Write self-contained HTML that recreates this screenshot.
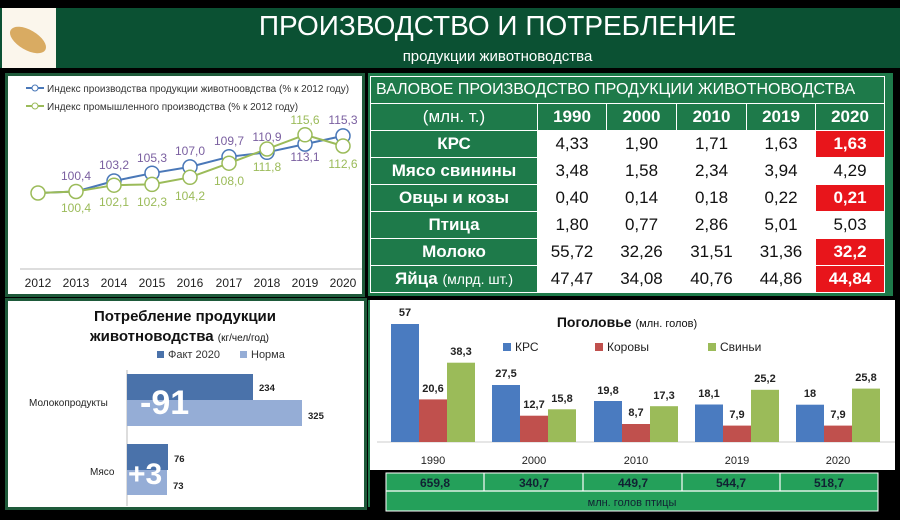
<!DOCTYPE html>
<html><head><meta charset="utf-8"><style>
body{margin:0;background:#000;width:900px;height:520px;overflow:hidden;position:relative;font-family:"Liberation Sans","DejaVu Sans",sans-serif}
.a{position:absolute}
table{border-collapse:collapse;position:absolute;left:370px;top:76px;width:514px;font-size:17px;table-layout:fixed}
td{border:1.5px solid #fff;text-align:center;height:26px;padding:0;color:#111;white-space:nowrap;overflow:hidden}
td.g{background:#1e7a4a;color:#fff;font-weight:bold}
td.r{background:#e8151b;color:#fff;font-weight:bold}
td.w{background:#fff}
</style></head><body>
<div class="a" style="left:0;top:8px;width:900px;height:60px;background:#0b5133"></div>
<div class="a" style="left:2px;top:8px;width:54px;height:60px;background:#fbf6ec"></div>
<div class="a" style="left:8px;top:30px;width:40px;height:20px;background:#d9ab62;border-radius:50%;transform:rotate(30deg)"></div>
<div class="a" style="left:0;top:10px;width:900px;text-align:center;color:#fff;font-size:28px;padding-left:95px;box-sizing:border-box">ПРОИЗВОДСТВО И ПОТРЕБЛЕНИЕ</div>
<div class="a" style="left:0;top:48px;width:900px;text-align:center;color:#fff;font-size:15px;padding-left:95px;box-sizing:border-box">продукции животноводства</div>

<svg class="a" style="left:5px;top:73px" width="360" height="224"><rect x="1.5" y="1.5" width="357" height="221" fill="#fff" stroke="#1e5a3a" stroke-width="3"/></svg>
<svg class="a" style="left:0;top:0" width="370" height="300" font-family="Liberation Sans, sans-serif">
<g font-size="10" fill="#333"><line x1="26" y1="88" x2="44" y2="88" stroke="#4a78b8" stroke-width="2"/><circle cx="35" cy="88" r="3" fill="#fff" stroke="#4a78b8"/><text x="47" y="92">Индекс производства продукции животноовдства (% к 2012 году)</text>
<line x1="26" y1="106" x2="44" y2="106" stroke="#9bbb59" stroke-width="2"/><circle cx="35" cy="106" r="3" fill="#fff" stroke="#9bbb59"/><text x="47" y="110">Индекс промышленного производства (% к 2012 году)</text></g>
<line x1="20" y1="269" x2="362" y2="269" stroke="#bbb"/>
<polyline fill="none" stroke="#4a78b8" stroke-width="2" points="38,193 76,191.5 114,181 152,173.2 190,166.9 229,156.8 267,152.3 305,144.1 343,135.9"/>
<polyline fill="none" stroke="#9bbb59" stroke-width="2" points="38,193 76,191.5 114,185.2 152,184.4 190,177.3 229,163.2 267,149 305,134.8 343,146"/>
<g fill="#fff" stroke-width="1.5"><g stroke="#4a78b8"><circle cx="114" cy="181" r="7"/><circle cx="152" cy="173.2" r="7"/><circle cx="190" cy="166.9" r="7"/><circle cx="229" cy="156.8" r="7"/><circle cx="267" cy="152.3" r="7"/><circle cx="305" cy="144.1" r="7"/><circle cx="343" cy="135.9" r="7"/></g>
<g stroke="#9bbb59"><circle cx="38" cy="193" r="7"/><circle cx="76" cy="191.5" r="7"/><circle cx="114" cy="185.2" r="7"/><circle cx="152" cy="184.4" r="7"/><circle cx="190" cy="177.3" r="7"/><circle cx="229" cy="163.2" r="7"/><circle cx="267" cy="149" r="7"/><circle cx="305" cy="134.8" r="7"/><circle cx="343" cy="146" r="7"/></g></g>
<g font-size="12" text-anchor="middle" fill="#7a5fa0"><text x="76" y="180">100,4</text><text x="114" y="169">103,2</text><text x="152" y="162">105,3</text><text x="190" y="155">107,0</text><text x="229" y="145">109,7</text><text x="267" y="141">110,9</text><text x="305" y="161">113,1</text><text x="343" y="124">115,3</text></g>
<g font-size="12" text-anchor="middle" fill="#9bbb59"><text x="76" y="212">100,4</text><text x="114" y="206">102,1</text><text x="152" y="206">102,3</text><text x="190" y="200">104,2</text><text x="229" y="185">108,0</text><text x="267" y="171">111,8</text><text x="305" y="124">115,6</text><text x="343" y="168">112,6</text></g>
<g font-size="12" text-anchor="middle" fill="#222"><text x="38" y="287">2012</text><text x="76" y="287">2013</text><text x="114" y="287">2014</text><text x="152" y="287">2015</text><text x="190" y="287">2016</text><text x="229" y="287">2017</text><text x="267" y="287">2018</text><text x="305" y="287">2019</text><text x="343" y="287">2020</text></g>
</svg>

<div class="a" style="left:368px;top:73px;width:525px;height:223px;background:#1e7a4a"></div>
<table>
<colgroup><col style="width:167px"><col style="width:69px"><col style="width:70px"><col style="width:70px"><col style="width:69px"><col style="width:69px"></colgroup>
<tr><td class="g" colspan="6" style="font-weight:normal;font-size:16px;text-align:left;padding-left:5px">ВАЛОВОЕ ПРОИЗВОДСТВО ПРОДУКЦИИ ЖИВОТНОВОДСТВА</td></tr>
<tr><td class="g" style="font-weight:normal">(млн. т.)</td><td class="g">1990</td><td class="g">2000</td><td class="g">2010</td><td class="g">2019</td><td class="g">2020</td></tr>
<tr><td class="g">КРС</td><td class="w">4,33</td><td class="w">1,90</td><td class="w">1,71</td><td class="w">1,63</td><td class="r">1,63</td></tr>
<tr><td class="g">Мясо свинины</td><td class="w">3,48</td><td class="w">1,58</td><td class="w">2,34</td><td class="w">3,94</td><td class="w">4,29</td></tr>
<tr><td class="g">Овцы и козы</td><td class="w">0,40</td><td class="w">0,14</td><td class="w">0,18</td><td class="w">0,22</td><td class="r">0,21</td></tr>
<tr><td class="g">Птица</td><td class="w">1,80</td><td class="w">0,77</td><td class="w">2,86</td><td class="w">5,01</td><td class="w">5,03</td></tr>
<tr><td class="g">Молоко</td><td class="w">55,72</td><td class="w">32,26</td><td class="w">31,51</td><td class="w">31,36</td><td class="r">32,2</td></tr>
<tr><td class="g">Яйца <span style="font-weight:normal;font-size:14px">(млрд. шт.)</span></td><td class="w">47,47</td><td class="w">34,08</td><td class="w">40,76</td><td class="w">44,86</td><td class="r">44,84</td></tr>
</table>

<svg class="a" style="left:0;top:298px" width="368" height="214" font-family="Liberation Sans, sans-serif">
<rect x="6.5" y="1.5" width="359" height="209" fill="#fff" stroke="#1e5a3a" stroke-width="3"/>
<text x="185" y="23" font-size="15" font-weight="bold" text-anchor="middle" fill="#111">Потребление продукции</text>
<text x="90" y="43" font-size="15" font-weight="bold" fill="#111">животноводства <tspan font-size="10" font-weight="normal">(кг/чел/год)</tspan></text>
<rect x="157" y="53" width="7" height="7" fill="#4a72aa"/><text x="168" y="60" font-size="11" fill="#333">Факт 2020</text>
<rect x="240" y="53" width="7" height="7" fill="#95add6"/><text x="251" y="60" font-size="11" fill="#333">Норма</text>
<line x1="127" y1="72" x2="127" y2="208" stroke="#bbb"/>
<rect x="127" y="76" width="126" height="26" fill="#4a72aa"/><rect x="127" y="102" width="175" height="26" fill="#95add6"/>
<rect x="127" y="146" width="41" height="26" fill="#4a72aa"/><rect x="127" y="172" width="40" height="25" fill="#95add6"/>
<g font-size="9.5" font-weight="bold" fill="#222"><text x="259" y="93">234</text><text x="308" y="121">325</text><text x="174" y="164">76</text><text x="173" y="191">73</text></g>
<g font-size="10" fill="#222"><text x="29" y="108">Молокопродукты</text><text x="90" y="177">Мясо</text></g>
<text x="140" y="116" font-size="34" font-weight="bold" fill="#fff">-91</text>
<text x="128" y="186" font-size="30" font-weight="bold" fill="#fff">+3</text>
</svg>

<svg class="a" style="left:365px;top:295px" width="535" height="225" font-family="Liberation Sans, sans-serif">
<rect x="3" y="5" width="527" height="170" fill="#fff"/><line x1="4" y1="5" x2="4" y2="212" stroke="#1e7a4a" stroke-width="2"/>
<text x="262" y="32" font-size="14" font-weight="bold" text-anchor="middle" fill="#111">Поголовье <tspan font-size="11" font-weight="normal">(млн. голов)</tspan></text>
<rect x="138" y="48" width="8" height="8" fill="#4a7bc0"/><text x="150" y="56" font-size="12" fill="#222">КРС</text>
<rect x="230" y="48" width="8" height="8" fill="#c0504d"/><text x="242" y="56" font-size="12" fill="#222">Коровы</text>
<rect x="343" y="48" width="8" height="8" fill="#9bbb59"/><text x="355" y="56" font-size="12" fill="#222">Свиньи</text>
<line x1="12" y1="147" x2="530" y2="147" stroke="#ccc"/>
<g>
<rect x="26" y="29" width="28" height="118" fill="#4a7bc0"/><rect x="54" y="104.4" width="28" height="42.6" fill="#c0504d"/><rect x="82" y="67.7" width="28" height="79.3" fill="#9bbb59"/>
<rect x="127" y="90" width="28" height="57" fill="#4a7bc0"/><rect x="155" y="120.7" width="28" height="26.3" fill="#c0504d"/><rect x="183" y="114.3" width="28" height="32.7" fill="#9bbb59"/>
<rect x="229" y="106" width="28" height="41" fill="#4a7bc0"/><rect x="257" y="129" width="28" height="18" fill="#c0504d"/><rect x="285" y="111.2" width="28" height="35.8" fill="#9bbb59"/>
<rect x="330" y="109.5" width="28" height="37.5" fill="#4a7bc0"/><rect x="358" y="130.6" width="28" height="16.4" fill="#c0504d"/><rect x="386" y="94.8" width="28" height="52.2" fill="#9bbb59"/>
<rect x="431" y="109.7" width="28" height="37.3" fill="#4a7bc0"/><rect x="459" y="130.6" width="28" height="16.4" fill="#c0504d"/><rect x="487" y="93.6" width="28" height="53.4" fill="#9bbb59"/>
</g>
<g font-size="11" font-weight="bold" text-anchor="middle" fill="#222">
<text x="40" y="21">57</text><text x="68" y="97">20,6</text><text x="96" y="60">38,3</text>
<text x="141" y="82">27,5</text><text x="169" y="113">12,7</text><text x="197" y="107">15,8</text>
<text x="243" y="99">19,8</text><text x="271" y="121">8,7</text><text x="299" y="104">17,3</text>
<text x="344" y="102">18,1</text><text x="372" y="123">7,9</text><text x="400" y="87">25,2</text>
<text x="445" y="102">18</text><text x="473" y="123">7,9</text><text x="501" y="86">25,8</text></g>
<g font-size="11" text-anchor="middle" fill="#222"><text x="68" y="169">1990</text><text x="169" y="169">2000</text><text x="271" y="169">2010</text><text x="372" y="169">2019</text><text x="473" y="169">2020</text></g>
<rect x="21" y="178" width="492" height="38" fill="#24a05a" stroke="#fff"/>
<g stroke="#fff" stroke-width="1.2"><line x1="21" y1="196" x2="513" y2="196"/><line x1="119" y1="178" x2="119" y2="196"/><line x1="218" y1="178" x2="218" y2="196"/><line x1="317" y1="178" x2="317" y2="196"/><line x1="415" y1="178" x2="415" y2="196"/></g>
<g font-size="12" font-weight="bold" text-anchor="middle" fill="#123"><text x="70" y="192">659,8</text><text x="169" y="192">340,7</text><text x="268" y="192">449,7</text><text x="366" y="192">544,7</text><text x="464" y="192">518,7</text></g>
<text x="267" y="211" font-size="11" text-anchor="middle" fill="#123">млн. голов птицы</text>
</svg>
</body></html>
